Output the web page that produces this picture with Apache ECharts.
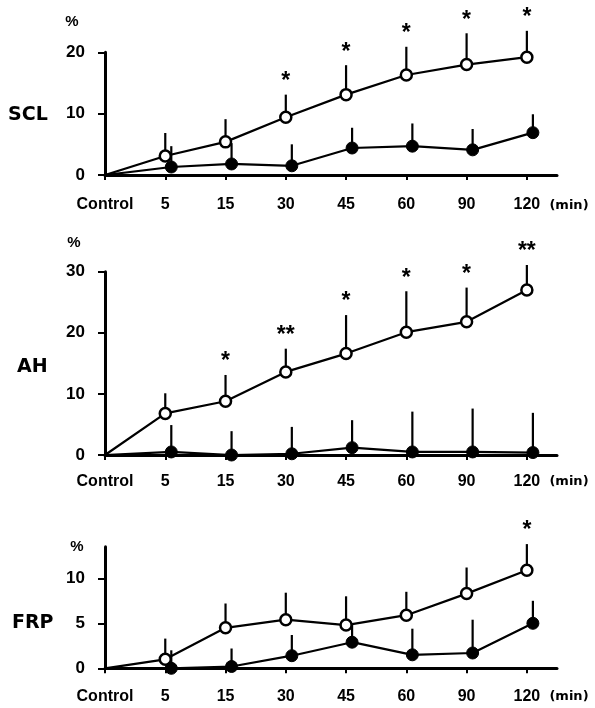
<!DOCTYPE html>
<html>
<head>
<meta charset="utf-8">
<script src="https://cdn.jsdelivr.net/npm/echarts@6/dist/echarts.min.js"></script>
<style>
html, body { margin: 0; padding: 0; background: #fff; }
#chart { width: 595px; height: 708px; }
</style>
</head>
<body>
<div id="chart"></div>
<script>
// time points (min); index 0 is the control
var categories = ['Control', '5', '15', '30', '45', '60', '90', '120'];

// SCL, % change (mean and upper SD)
var sclOpen = [0, 3.1, 5.4, 9.4, 13.1, 16.3, 18.0, 19.2];
var sclOpenSD = [0, 3.75, 3.7, 3.7, 4.8, 4.6, 5.1, 4.3];
var sclFilled = [0, 1.3, 1.8, 1.5, 4.4, 4.7, 4.1, 6.9];
var sclFilledSD = [0, 3.4, 3.4, 3.5, 3.3, 3.7, 3.4, 3.0];
var sclStars = ['', '', '', '*', '*', '*', '*', '*'];

// AH
var ahOpen = [0, 6.8, 8.8, 13.6, 16.6, 20.1, 21.8, 27.0];
var ahOpenSD = [0, 3.3, 4.3, 3.8, 6.3, 6.7, 5.6, 4.1];
var ahFilled = [0, 0.5, 0, 0.2, 1.2, 0.5, 0.5, 0.4];
var ahFilledSD = [0, 4.4, 3.9, 4.4, 4.5, 6.6, 7.1, 6.5];
var ahStars = ['', '', '*', '**', '*', '*', '*', '**'];

// FRP
var frpOpen = [0, 1.0, 4.5, 5.4, 4.8, 5.9, 8.3, 10.9];
var frpOpenSD = [0, 2.3, 2.7, 3.0, 3.2, 2.6, 2.9, 2.9];
var frpFilled = [0, 0, 0.2, 1.4, 2.9, 1.5, 1.7, 5.0];
var frpFilledSD = [0, 2.0, 2.0, 2.3, 2.0, 2.9, 3.7, 2.5];
var frpStars = ['', '', '', '', '', '', '', '*'];

var yTicks = [[0, 10, 20], [0, 10, 20, 30], [0, 5, 10]];
var yMax = [20, 30, 13.5];

var labelFont = 'Liberation Sans';
var titleFont = 'DejaVu Sans';
var filledShift = 0.1;

var grids = [
    { left: 105, top: 52.3, width: 452, height: 122.7 },
    { left: 105, top: 271.7, width: 452, height: 183.3 },
    { left: 105, top: 546.8, width: 452, height: 121.5 }
];
var xMargins = [22, 19, 20];

function xAxis(k) {
    return {
        gridIndex: k, type: 'value', min: 0, max: 7.5,
        axisLine: { lineStyle: { color: '#000', width: 3 } },
        axisTick: { show: true, length: 5, customValues: [0, 1, 2, 3, 4, 5, 6, 7], lineStyle: { color: '#000', width: 2 } },
        axisLabel: {
            customValues: [0, 1, 2, 3, 4, 5, 6, 7],
            margin: xMargins[k], color: '#000', fontFamily: labelFont, fontWeight: 'bold', fontSize: 16,
            formatter: function (v) { return categories[Math.round(v)] || ''; }
        },
        splitLine: { show: false }
    };
}

function yAxis(k) {
    return {
        gridIndex: k, type: 'value', min: 0, max: yMax[k],
        axisLine: { show: true, lineStyle: { color: '#000', width: 3 } },
        axisTick: { show: true, length: 7, customValues: yTicks[k], lineStyle: { color: '#000', width: 2 } },
        axisLabel: {
            customValues: yTicks[k],
            margin: 20, color: '#000', fontFamily: labelFont, fontWeight: 'bold', fontSize: 17
        },
        splitLine: { show: false }
    };
}

function lineSeries(k, means, shift, open) {
    return {
        type: 'line', xAxisIndex: k, yAxisIndex: k, z: 3,
        data: means.map(function (v, i) {
            return i === 0 ? { value: [0, v], symbol: 'none' } : [i + shift, v];
        }),
        symbol: 'circle',
        symbolSize: open ? 11 : 12,
        itemStyle: open ? { color: '#fff', borderColor: '#000', borderWidth: 2.5 } : { color: '#000', borderColor: '#000', borderWidth: 1 },
        lineStyle: { color: '#000', width: 2.2 }
    };
}

function errorSeries(k, means, sds, stars, shift) {
    var rows = [];
    for (var i = 1; i < means.length; i++) rows.push([i + shift, means[i], means[i] + sds[i], i]);
    return {
        type: 'custom', xAxisIndex: k, yAxisIndex: k, z: 1, clip: false, silent: true,
        data: rows,
        renderItem: function (params, api) {
            var base = api.coord([api.value(0), api.value(1)]);
            var top = api.coord([api.value(0), api.value(2)]);
            var star = stars ? stars[api.value(3)] : '';
            var kids = [{
                type: 'line',
                shape: { x1: base[0], y1: base[1], x2: top[0], y2: top[1] },
                style: { stroke: '#000', lineWidth: 2.2 }
            }];
            if (star) {
                kids.push({
                    type: 'text', x: top[0], y: top[1] - 13,
                    style: { text: star, fill: '#000', font: 'bold 23px "Liberation Sans"', textAlign: 'center', textVerticalAlign: 'middle' }
                });
            }
            return { type: 'group', children: kids };
        }
    };
}

function txt(x, y, s, font, align) {
    return { type: 'text', x: x, y: y, style: { text: s, fill: '#000', font: font, textAlign: align || 'center', textVerticalAlign: 'middle' } };
}

var panels = [
    [sclOpen, sclOpenSD, sclFilled, sclFilledSD, sclStars],
    [ahOpen, ahOpenSD, ahFilled, ahFilledSD, ahStars],
    [frpOpen, frpOpenSD, frpFilled, frpFilledSD, frpStars]
];

var series = [];
panels.forEach(function (p, k) {
    series.push(errorSeries(k, p[0], p[1], p[4], 0));
    series.push(errorSeries(k, p[2], p[3], null, filledShift));
    series.push(lineSeries(k, p[0], 0, true));
    series.push(lineSeries(k, p[2], filledShift, false));
});

var chart = echarts.init(document.getElementById('chart'));
chart.setOption({
    animation: false,
    backgroundColor: '#fff',
    grid: grids,
    xAxis: [xAxis(0), xAxis(1), xAxis(2)],
    yAxis: [yAxis(0), yAxis(1), yAxis(2)],
    series: series,
    graphic: [
        txt(72, 22, '%', 'bold 15px "' + labelFont + '"'),
        txt(74, 243, '%', 'bold 15px "' + labelFont + '"'),
        txt(77, 547, '%', 'bold 15px "' + labelFont + '"'),
        txt(8, 115, 'SCL', 'bold 19px "' + titleFont + '"', 'left'),
        txt(17, 367, 'AH', 'bold 19px "' + titleFont + '"', 'left'),
        txt(12, 623, 'FRP', 'bold 19px "' + titleFont + '"', 'left'),
        txt(569, 206, '(min)', 'bold 13px "' + titleFont + '"'),
        txt(569, 482, '(min)', 'bold 13px "' + titleFont + '"'),
        txt(569, 697, '(min)', 'bold 13px "' + titleFont + '"')
    ]
});
</script>
</body>
</html>
